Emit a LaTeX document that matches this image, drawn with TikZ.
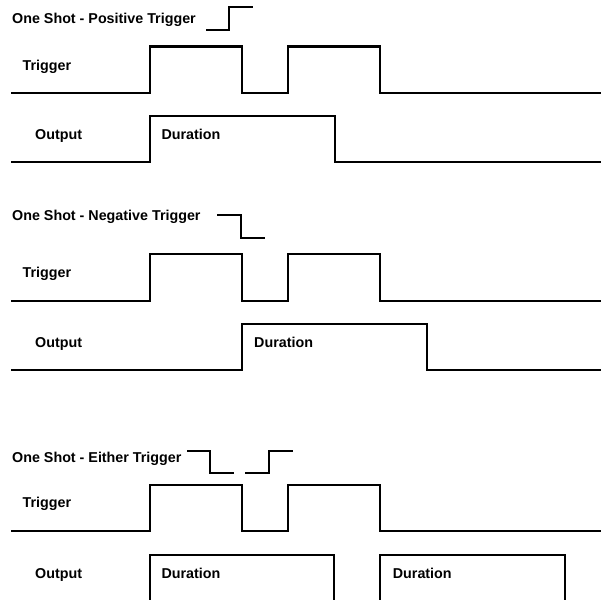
\documentclass[tikz,border=0pt]{standalone}
\usepackage{fontspec}
\setmainfont{Liberation Sans}
\begin{document}
\begin{tikzpicture}[x=1pt,y=-1pt,
  lbl/.style={anchor=base west,inner sep=0pt,font=\fontsize{14.3}{16}\selectfont\bfseries},
  wave/.style={line width=2.2pt,line join=miter,line cap=butt},
  icon/.style={line width=2pt,line join=miter}]
\useasboundingbox (0,0) rectangle (601,599);

% ---------- Positive trigger ----------
\node[lbl] (t1) at (12,24) {One Shot - Positive Trigger};
\draw[icon] (206,30.5) -- (229,30.5) -- (229,7.5) -- (253,7.5);
\node[lbl] (trg1) at (22.5,70.5) {Trigger};
\draw[wave] (11,92.7) -- (149.7,92.7) -- (149.7,46.5) -- (241.7,46.5) -- (241.7,92.7)
  -- (288,92.7) -- (288,46.5) -- (380.3,46.5) -- (380.3,92.7) -- (601,92.7);
\node[lbl] (out1) at (35,139.3) {Output};
\node[lbl] (dur1) at (161.3,139.3) {Duration};
\draw[wave] (11,162.3) -- (149.7,162.3) -- (149.7,115.8) -- (334.7,115.8) -- (334.7,162.3) -- (601,162.3);

% ---------- Negative trigger ----------
\node[lbl] (t2) at (12,220.7) {One Shot - Negative Trigger};
\draw[icon] (217,215) -- (241,215) -- (241,238.3) -- (265,238.3);
\node[lbl] (trg2) at (22.5,277) {Trigger};
\draw[wave] (11,300.7) -- (149.7,300.7) -- (149.7,254.2) -- (241.7,254.2) -- (241.7,300.7)
  -- (288,300.7) -- (288,254.2) -- (380.3,254.2) -- (380.3,300.7) -- (601,300.7);
\node[lbl] (out2) at (35,347.5) {Output};
\node[lbl] (dur2) at (254,347.5) {Duration};
\draw[wave] (11,370) -- (241.7,370) -- (241.7,323.8) -- (426.7,323.8) -- (426.7,370) -- (601,370);

% ---------- Either trigger ----------
\node[lbl] (t3) at (12,462) {One Shot - Either Trigger};
\draw[icon] (187,450.7) -- (210,450.7) -- (210,473.3) -- (234,473.3);
\draw[icon] (245,473.3) -- (268.7,473.3) -- (268.7,450.7) -- (292.7,450.7);
\node[lbl] (trg3) at (22.5,507.5) {Trigger};
\draw[wave] (11,531.3) -- (149.7,531.3) -- (149.7,485.3) -- (241.7,485.3) -- (241.7,531.3)
  -- (288,531.3) -- (288,485.3) -- (380.3,485.3) -- (380.3,531.3) -- (601,531.3);
\node[lbl] (out3) at (35,578) {Output};
\node[lbl] (dur3) at (161.3,578) {Duration};
\node[lbl] (dur4) at (392.7,578) {Duration};
\draw[wave] (149.7,602) -- (149.7,554.8) -- (333.7,554.8) -- (333.7,602);
\draw[wave] (380.3,602) -- (380.3,554.8) -- (565,554.8) -- (565,602);
\end{tikzpicture}
\end{document}
